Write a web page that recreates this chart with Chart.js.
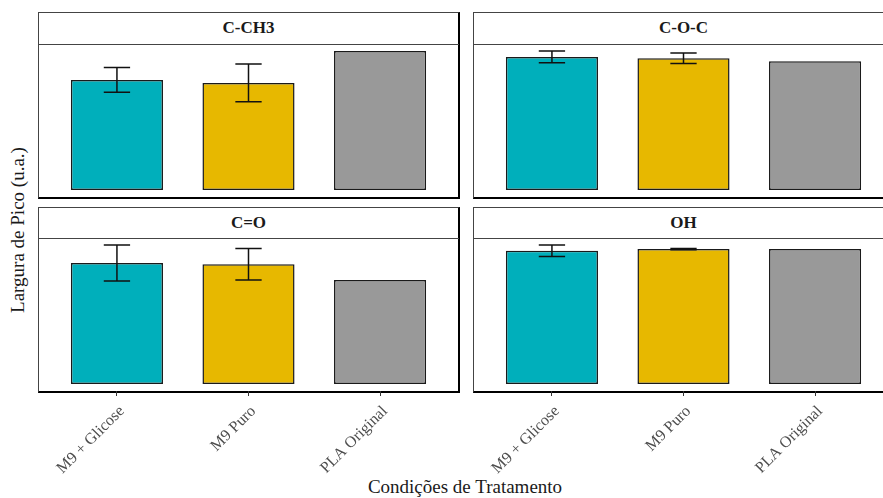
<!DOCTYPE html>
<html>
<head>
<meta charset="utf-8">
<script src="https://cdn.jsdelivr.net/npm/chart.js@4.4.1/dist/chart.umd.min.js"></script>
<style>
  html, body { margin: 0; padding: 0; background: #fff; }
  #fig {
    position: relative; width: 883px; height: 498px; overflow: hidden; background: #fff;
    font-family: 'Liberation Serif', 'Times New Roman', serif; color: #1a1a1a;
  }
  .frame {
    position: absolute; box-sizing: border-box;
    border-left: 1.5px solid #444; border-top: 1.5px solid #444;
    border-right: 2.5px solid #000; border-bottom: 2.5px solid #000;
  }
  .strip {
    position: absolute; box-sizing: border-box; border-bottom: 1.5px solid #444;
    display: flex; align-items: center; justify-content: center;
    font-weight: bold; font-size: 17px; color: #1a1a1a;
  }
  canvas { position: absolute; }
  .ytitle {
    position: absolute; left: 18px; top: 230px; white-space: nowrap; font-size: 19px;
    transform: translate(-50%, -50%) rotate(-90deg);
  }
  .xtitle {
    position: absolute; left: 465px; top: 487px; white-space: nowrap; font-size: 19px;
    transform: translate(-50%, -50%);
  }
</style>
</head>
<body>
<div id="fig">
  <div class="ytitle">Largura de Pico (u.a.)</div>
  <div class="xtitle">Condições de Tratamento</div>
</div>
<script>
// Treatment conditions (x categories) and their bar colours
const categories = ['M9 + Glicose', 'M9 Puro', 'PLA Original'];
const barColors = ['#00AFBB', '#E7B800', '#999999'];

// Functional groups, one facet each
const groups = ['C-CH3', 'C-O-C', 'C=O', 'OH'];

// Mean peak width (u.a.) and standard deviation per condition
const cch3Mean = [109.3, 106.3, 138.0];
const cch3Sd   = [12.2, 18.8, 0];
const cocMean  = [132.3, 131.0, 128.0];
const cocSd    = [5.9, 5.2, 0];
const coMean   = [120.6, 119.3, 103.6];
const coSd     = [18.0, 15.7, 0];
const ohMean   = [133.6, 135.3, 135.3];
const ohSd     = [5.8, 0.6, 0];

const facetData = [
  { title: groups[0], mean: cch3Mean, sd: cch3Sd },
  { title: groups[1], mean: cocMean,  sd: cocSd },
  { title: groups[2], mean: coMean,   sd: coSd },
  { title: groups[3], mean: ohMean,   sd: ohSd }
];

// Facet grid geometry
const FONT = "'Liberation Serif', 'Times New Roman', serif";
const colLeft = [38, 473];
const panelW = 421;
const rows = [
  { top: 12, stripBottom: 44, plotBottom: 197 },
  { top: 207, stripBottom: 238, plotBottom: 391 }
];
const AXIS_H = 100;

// Error bars (mean ± sd) drawn on top of the bars
const errorBars = {
  id: 'errorBars',
  afterDatasetsDraw(chart, args, opts) {
    const ds = chart.data.datasets[0];
    const meta = chart.getDatasetMeta(0);
    const y = chart.scales.y;
    const ctx = chart.ctx;
    ctx.save();
    ctx.strokeStyle = opts.color;
    ctx.lineWidth = opts.lineWidth;
    meta.data.forEach((bar, i) => {
      const e = ds.sd[i];
      if (!e) return;
      const v = ds.data[i];
      const yHi = y.getPixelForValue(v + e);
      const yLo = y.getPixelForValue(v - e);
      const hw = bar.width * opts.capRatio / 2;
      ctx.beginPath();
      ctx.moveTo(bar.x, yHi); ctx.lineTo(bar.x, yLo);
      ctx.moveTo(bar.x - hw, yHi); ctx.lineTo(bar.x + hw, yHi);
      ctx.moveTo(bar.x - hw, yLo); ctx.lineTo(bar.x + hw, yLo);
      ctx.stroke();
    });
    ctx.restore();
  }
};

const fig = document.getElementById('fig');

facetData.forEach((f, idx) => {
  const col = idx % 2;
  const row = rows[Math.floor(idx / 2)];
  const isBottom = idx >= 2;
  const left = colLeft[col];

  const frame = document.createElement('div');
  frame.className = 'frame';
  Object.assign(frame.style, {
    left: left + 'px', top: row.top + 'px',
    width: (panelW + 1) + 'px', height: (row.plotBottom - row.top + 1.5) + 'px'
  });
  fig.appendChild(frame);

  const strip = document.createElement('div');
  strip.className = 'strip';
  strip.textContent = f.title;
  Object.assign(strip.style, {
    left: left + 'px', top: row.top + 'px',
    width: panelW + 'px', height: (row.stripBottom - row.top + 1) + 'px'
  });
  fig.appendChild(strip);

  const plotH = row.plotBottom - row.stripBottom;
  const canvas = document.createElement('canvas');
  canvas.width = panelW;
  canvas.height = plotH + (isBottom ? AXIS_H : 0);
  canvas.style.left = left + 'px';
  canvas.style.top = row.stripBottom + 'px';
  fig.appendChild(canvas);

  const top = Math.max(...f.mean.map((m, i) => m + f.sd[i]));
  const pad = panelW / 32;

  const xScale = {
    display: isBottom,
    offset: true,
    border: { display: false },
    grid: {
      display: true, offset: false, drawOnChartArea: false,
      drawTicks: true, tickLength: 5, color: '#333', lineWidth: 1
    },
    ticks: {
      autoSkip: false, minRotation: 45, maxRotation: 45, padding: 6, labelOffset: 5,
      color: '#4d4d4d', font: { family: FONT, size: 16 }
    }
  };
  if (isBottom) xScale.afterFit = (s) => { s.height = AXIS_H; };

  new Chart(canvas, {
    type: 'bar',
    data: {
      labels: categories,
      datasets: [{
        data: f.mean,
        sd: f.sd,
        backgroundColor: barColors,
        borderColor: '#1a1a1a',
        borderWidth: 1.5,
        borderSkipped: false,
        categoryPercentage: 1,
        barPercentage: 0.7
      }]
    },
    options: {
      responsive: false,
      devicePixelRatio: 1,
      animation: false,
      events: [],
      layout: { padding: { left: pad, right: pad, top: 0, bottom: 0 } },
      plugins: {
        legend: { display: false },
        tooltip: { enabled: false },
        errorBars: { color: '#111', lineWidth: 1.5, capRatio: 0.2 / 0.7 }
      },
      scales: {
        y: { display: false, min: -0.05 * top, max: 1.05 * top },
        x: xScale
      }
    },
    plugins: [errorBars]
  });
});
</script>
</body>
</html>
